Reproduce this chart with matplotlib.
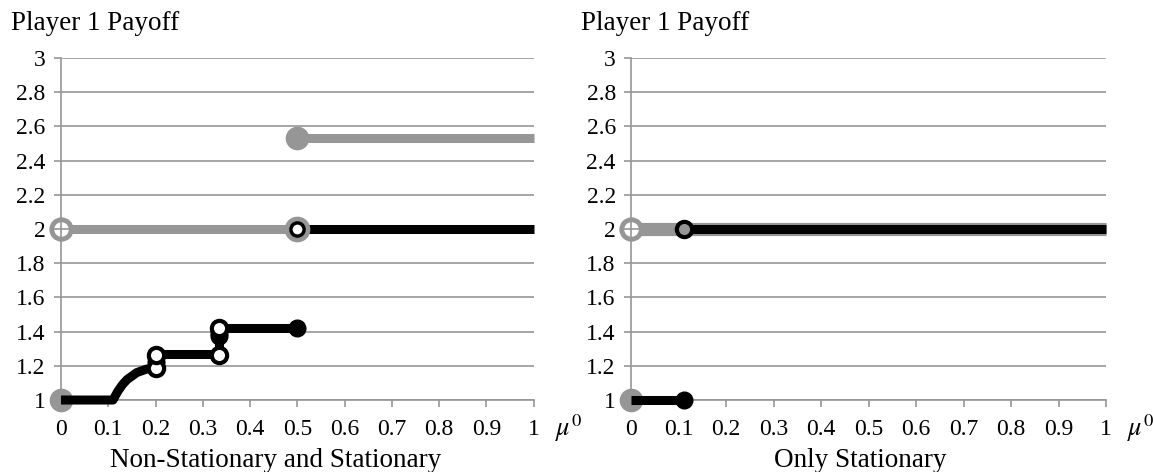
import matplotlib.pyplot as plt

plt.rcParams['font.family'] = ['Liberation Serif', 'DejaVu Serif']
plt.rcParams['mathtext.fontset'] = 'stix'

GRAY = '#969696'
BLACK = '#000000'

# left panel: non-stationary and stationary equilibria
ns_low_mu = [0.0, 0.11, 0.12, 0.13, 0.14, 0.15, 0.16, 0.17, 0.18, 0.2]
ns_low_pay = [1.0, 1.0, 1.05, 1.09, 1.12, 1.14, 1.16, 1.17, 1.18, 1.19]
ns_step1_mu = [0.2, 0.2, 1 / 3]
ns_step1_pay = [1.19, 1.27, 1.27]
ns_step2_mu = [1 / 3, 1 / 3, 0.5]
ns_step2_pay = [1.27, 1.42, 1.42]
ns_filled_mu = [0.2, 0.2, 1 / 3, 1 / 3, 0.5]
ns_filled_pay = [1.225, 1.25, 1.375, 1.39, 1.42]
ns_open_mu = [0.2, 0.2, 1 / 3, 1 / 3]
ns_open_pay = [1.19, 1.265, 1.265, 1.42]
ns_high_mu = [0.5, 1.0]
ns_high_pay = [2.0, 2.0]
ns_gray_mid_mu = [0.0, 0.5]
ns_gray_mid_pay = [2.0, 2.0]
ns_gray_top_mu = [0.5, 1.0]
ns_gray_top_pay = [2.53, 2.53]

# right panel: only stationary equilibria
st_gray_mu = [0.0, 1.0]
st_gray_pay = [2.0, 2.0]
st_high_mu = [1 / 9, 1.0]
st_high_pay = [2.0, 2.0]
st_low_mu = [0.0, 1 / 9]
st_low_pay = [1.0, 1.0]

xticks = [0, 0.1, 0.2, 0.3, 0.4, 0.5, 0.6, 0.7, 0.8, 0.9, 1]
xticklabels = ['0', '0.1', '0.2', '0.3', '0.4', '0.5', '0.6', '0.7', '0.8', '0.9', '1']
yticks = [1, 1.2, 1.4, 1.6, 1.8, 2, 2.2, 2.4, 2.6, 2.8, 3]
yticklabels = ['1', '1.2', '1.4', '1.6', '1.8', '2', '2.2', '2.4', '2.6', '2.8', '3']


def style_axes(ax, xlabel, xlabel_pos):
    ax.set_xlim(0, 1)
    ax.set_ylim(1, 3)
    ax.set_xticks(xticks)
    ax.set_xticklabels(xticklabels)
    ax.set_yticks(yticks)
    ax.set_yticklabels(yticklabels)
    ax.yaxis.grid(True, color=GRAY, lw=1.2)
    ax.set_axisbelow(True)
    for s in ['top', 'right']:
        ax.spines[s].set_visible(False)
    for s in ['left', 'bottom']:
        ax.spines[s].set_color(GRAY)
        ax.spines[s].set_linewidth(1.2)
        ax.spines[s].set_zorder(0.6)
    ax.tick_params(axis='both', colors=GRAY, length=5, width=1.2,
                   labelcolor='black', labelsize=17)
    ax.tick_params(axis='x', pad=9)
    ax.tick_params(axis='y', pad=6)
    ax.set_xlabel(xlabel, fontsize=19.5)
    ax.xaxis.set_label_coords(xlabel_pos, -0.14)
    ax.text(-0.105, 3.13, 'Player 1 Payoff', fontsize=19.5, ha='left', va='bottom')
    ax.text(1.045, 0.93, r'$\mu^0$', fontsize=19, ha='left', va='top',
            transform=ax.transData, clip_on=False)


fig = plt.figure(figsize=(11.53, 4.72), dpi=100)
ax1 = fig.add_axes([0.0529, 0.1525, 0.410, 0.7246])
ax2 = fig.add_axes([0.5473, 0.1525, 0.412, 0.7246])

kw = dict(clip_on=False, solid_capstyle='butt', zorder=3)
big = dict(ms=16, clip_on=False)
small = dict(ms=12, clip_on=False, zorder=4)
hollow = dict(mfc='white', mec=BLACK, mew=3, ms=11, clip_on=False, zorder=4)

# left panel
style_axes(ax1, 'Non-Stationary and Stationary', 0.455)
ax1.plot(ns_gray_mid_mu, ns_gray_mid_pay, color=GRAY, lw=6.5,
         clip_on=False, solid_capstyle='butt', zorder=0.2)
ax1.plot(ns_gray_top_mu, ns_gray_top_pay, color=GRAY, lw=6.5, **kw)
ax1.plot(ns_high_mu, ns_high_pay, color=BLACK, lw=6.5, **kw)
ax1.plot(ns_low_mu, ns_low_pay, color=BLACK, lw=6.5, **kw)
ax1.plot(ns_step1_mu, ns_step1_pay, color=BLACK, lw=6.5, **kw)
ax1.plot(ns_step2_mu, ns_step2_pay, color=BLACK, lw=6.5, **kw)
ax1.plot([0.5], [2.53], 'o', color=GRAY, zorder=4, **big)
ax1.plot([0], [2], 'o', mfc='white', mec=GRAY, mew=3.5, ms=14, clip_on=False, zorder=0.3)
ax1.plot([0.5], [2], 'o', mfc='white', mec=GRAY, mew=3.5, ms=15, clip_on=False, zorder=4)
ax1.plot([0.5], [2], 'o', mfc='white', mec=BLACK, mew=2.5, ms=9.5, clip_on=False, zorder=5)
ax1.plot([0], [1], 'o', color=GRAY, zorder=2.8, **big)
ax1.plot(ns_filled_mu, ns_filled_pay, 'o', color=BLACK, **small)
ax1.plot(ns_open_mu, ns_open_pay, 'o', **hollow)

# right panel
style_axes(ax2, 'Only Stationary', 0.482)
ax2.plot(st_gray_mu, st_gray_pay, color=GRAY, lw=9.5,
         clip_on=False, solid_capstyle='butt', zorder=0.2)
ax2.plot(st_high_mu, st_high_pay, color=BLACK, lw=6.5, **kw)
ax2.plot(st_low_mu, st_low_pay, color=BLACK, lw=6.5, **kw)
ax2.plot([0], [2], 'o', mfc='white', mec=GRAY, mew=3.5, ms=14, clip_on=False, zorder=0.3)
ax2.plot([1 / 9], [2], 'o', mfc=GRAY, mec=BLACK, mew=3, ms=11, clip_on=False, zorder=4)
ax2.plot([0], [1], 'o', color=GRAY, zorder=2.8, **big)
ax2.plot([1 / 9], [1], 'o', color=BLACK, **small)

fig.savefig('out.png', dpi=100)
